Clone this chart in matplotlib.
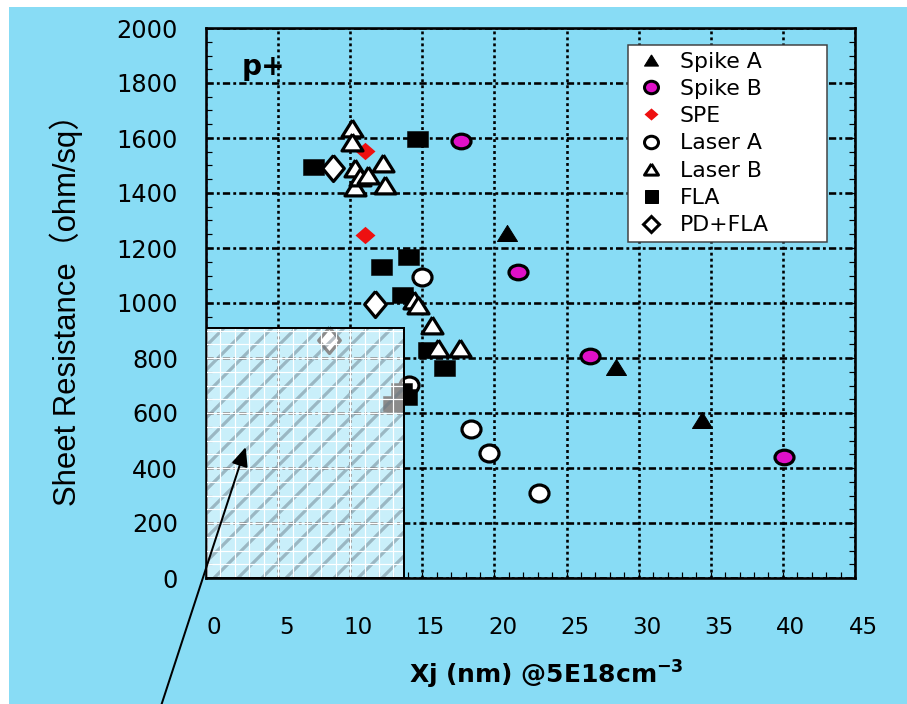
import numpy as np
import matplotlib
matplotlib.use('Agg')
import matplotlib.pyplot as plt
from matplotlib.path import Path
from matplotlib.patches import Rectangle
from matplotlib.lines import Line2D
from matplotlib.ticker import MultipleLocator
from matplotlib.transforms import Affine2D, ScaledTranslation

# data: Xj (nm), sheet resistance (ohm/sq)
spike_a_x = [20.9, 28.4, 34.4]
spike_a_y = [1255, 768, 575]
spike_b_x = [17.7, 21.6, 26.6, 40.1]
spike_b_y = [1589, 1113, 807, 440]
spe_x = [11.0, 11.0]
spe_y = [1553, 1247]
laser_a_x = [15.0, 14.1, 18.4, 19.6, 23.1]
laser_a_y = [1095, 702, 542, 454, 309]
laser_b_x = [10.1, 10.1, 10.3, 10.3, 10.7, 11.2, 12.3, 12.4, 14.4, 14.7, 15.7, 16.1, 17.6]
laser_b_y = [1636, 1585, 1491, 1422, 1458, 1465, 1509, 1429, 1011, 993, 920, 836, 836]
fla_x = [7.4, 14.6, 12.1, 14.0, 13.6, 15.4, 16.5, 13.9, 13.0, 13.5]
fla_y = [1495, 1596, 1131, 1167, 1029, 829, 764, 658, 632, 680]
pdfla_x = [8.8, 11.7, 8.5]
pdfla_y = [1491, 996, 865]

labels = ['Spike A', 'Spike B', 'SPE', 'Laser A', 'Laser B', 'FLA', 'PD+FLA']
box_w, box_h = 13.7, 910

BG = '#88dcf5'

# the original picture is stretched sideways, so the markers are too
tri = [(0, 1), (-1.25, -1), (1.25, -1), (0, 1)]
square = [(-1.33, -1), (1.33, -1), (1.33, 1), (-1.33, 1), (-1.33, -1)]
diam_tall = [(0, 1.2), (1, 0), (0, -1.2), (-1, 0), (0, 1.2)]
diam_red = [(0, 1), (1.15, 0), (0, -1), (-1.15, 0), (0, 1)]
ell_wide = Path.unit_circle().transformed(Affine2D().scale(1.3, 1))
ell_round = Path.unit_circle().transformed(Affine2D().scale(1.12, 1))

plt.rcParams['mathtext.default'] = 'bf'
dpi = 72
fig = plt.figure(figsize=(907 / dpi, 704 / dpi), dpi=dpi, facecolor='white')
fig.patches.append(Rectangle((9 / 907, 0), 1, 1 - 7 / 704, transform=fig.transFigure,
                             facecolor=BG, edgecolor='none', zorder=-10))
ax = fig.add_axes([206 / 907, 1 - 578 / 704, 649 / 907, 550 / 704])
ax.set_facecolor(BG)
ax.set_xlim(0, 45)
ax.set_ylim(0, 2000)
ax.xaxis.set_major_locator(MultipleLocator(5))
ax.xaxis.set_minor_locator(MultipleLocator(1))
ax.yaxis.set_major_locator(MultipleLocator(200))
ax.yaxis.set_minor_locator(MultipleLocator(50))
ax.tick_params(which='both', direction='in', top=False, right=True,
               length=6, width=1.2)
ax.tick_params(axis='y', which='major', pad=28, labelsize=24)
ax.tick_params(axis='x', which='major', pad=38, labelsize=23)
for s in ax.spines.values():
    s.set_linewidth(2.6)

ax.xaxis.grid(True, color='k', lw=2.6, linestyle=(0, (1.1, 1.2)))
ax.yaxis.grid(True, color='k', lw=2.6, linestyle=(0, (2.8, 1.2, 1.1, 1.2)))
ax.set_axisbelow(True)
ax.get_xgridlines()[1].set_color('#c0309a')

for lab in ax.get_xticklabels():
    lab.set_transform(lab.get_transform() + ScaledTranslation(8 / dpi, 0, fig.dpi_scale_trans))

# series
ax.plot(spike_a_x, spike_a_y, ls='none', marker=tri, ms=20, mfc='k', mec='k', mew=1, zorder=3)
ax.plot(spike_b_x, spike_b_y, ls='none', marker=ell_wide, ms=19, mfc='#e010c8', mec='k', mew=3.2, zorder=3)
ax.plot(spe_x, spe_y, ls='none', marker=diam_red, ms=20, mfc='#ee1010', mec='none', zorder=3)
ax.plot(laser_a_x, laser_a_y, ls='none', marker=ell_round, ms=19, mfc='white', mec='k', mew=3.2, zorder=3)
ax.plot(fla_x, fla_y, ls='none', marker=square, ms=21, mfc='k', mec='k', mew=0.5, zorder=3)
ax.plot(laser_b_x, laser_b_y, ls='none', marker=tri, ms=21, mfc='white', mec='k', mew=3.2, zorder=3)
ax.plot(pdfla_x, pdfla_y, ls='none', marker=diam_tall, ms=26, mfc='white', mec='k', mew=3.2, zorder=3)

# hatched target region
plt.rcParams['hatch.linewidth'] = 3.2
ax.add_patch(Rectangle((0, 0), box_w, box_h, facecolor=(1, 1, 1, 0.55),
                       edgecolor=(0.38, 0.45, 0.5, 0.45), lw=0, hatch='/', zorder=5))
ax.vlines(np.arange(1, box_w), 0, box_h, colors='white', lw=1.2, zorder=5.5)
ax.hlines(np.arange(50, box_h, 50), 0, box_w, colors='white', lw=1.2, zorder=5.5)
ax.add_patch(Rectangle((0, 0), box_w, box_h, fill=False, edgecolor='k', lw=2, zorder=6))

ax.annotate('', xy=(2.75, 476), xycoords='data', xytext=(161, -2),
            textcoords='figure pixels', annotation_clip=False,
            arrowprops=dict(arrowstyle='-|>,head_length=0.8,head_width=0.35',
                            mutation_scale=20, lw=2, color='k',
                            shrinkA=0, shrinkB=0), zorder=7)

ax.text(2.5, 1829, 'p+', fontsize=28, fontweight='bold', family='DejaVu Sans',
        va='baseline', ha='left')

ax.set_xlabel('Xj (nm) @5E18cm$^{-3}$', fontsize=25, fontweight='bold',
              family='DejaVu Sans', va='center')
ax.xaxis.set_label_coords(0.524, (578 - 675) / 550)
ax.set_ylabel('Sheet Resistance（ohm/sq）', fontsize=31,
              family=['Liberation Sans', 'Noto Sans CJK SC'],
              ha='center', va='center')
ax.yaxis.set_label_coords((66 - 206) / 649, (578 - 302) / 550)

handles = [
    Line2D([], [], ls='none', marker=tri, ms=14, mfc='k', mec='k'),
    Line2D([], [], ls='none', marker=ell_round, ms=14, mfc='#e010c8', mec='k', mew=3),
    Line2D([], [], ls='none', marker=diam_red, ms=14, mfc='#ee1010', mec='none'),
    Line2D([], [], ls='none', marker=ell_round, ms=14, mfc='white', mec='k', mew=3),
    Line2D([], [], ls='none', marker=tri, ms=14, mfc='white', mec='k', mew=3),
    Line2D([], [], ls='none', marker='s', ms=13, mfc='k', mec='k'),
    Line2D([], [], ls='none', marker='D', ms=11, mfc='white', mec='k', mew=3),
]
leg = ax.legend(handles, labels, loc='upper left', mode='expand',
                bbox_to_anchor=(0.65, 0.609, 0.307, 0.36),
                prop=dict(family='DejaVu Sans', size=22), frameon=True,
                fancybox=False, framealpha=1, edgecolor='#404040',
                borderpad=0.3, labelspacing=0.33, handlelength=1.5,
                handletextpad=0.55, borderaxespad=0)
leg.get_frame().set_linewidth(1.5)
leg.set_zorder(8)

fig.savefig('out.png', dpi=dpi, facecolor=fig.get_facecolor())
